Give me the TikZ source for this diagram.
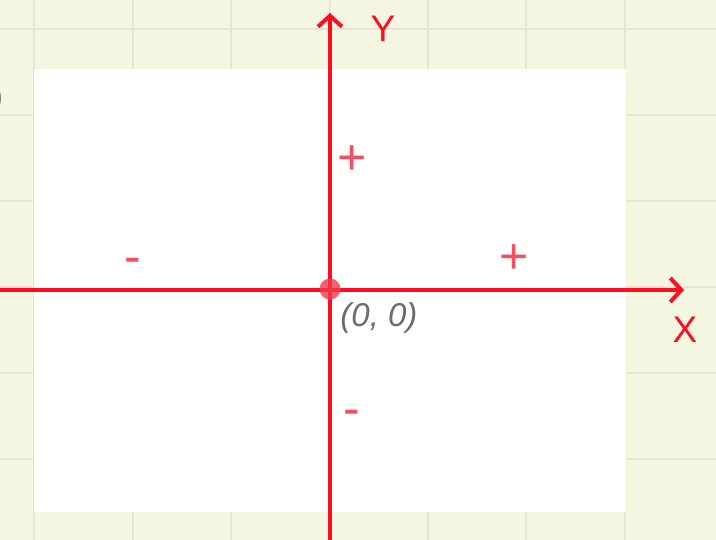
\documentclass[tikz,border=0pt]{standalone}
\usepackage{fontspec}
\setmainfont{Liberation Sans}
\usetikzlibrary{arrows.meta}
\definecolor{bgc}{RGB}{245,246,225}
\definecolor{gridc}{RGB}{228,230,209}
\definecolor{axisred}{RGB}{255,12,32}
\definecolor{signred}{RGB}{246,78,94}
\definecolor{dotred}{RGB}{240,58,74}
\definecolor{labgray}{RGB}{108,108,108}
\tikzset{
  gridline/.style={draw=gridc, line width=2pt},
  axisline/.style={draw=axisred, line width=4pt, -{Straight Barb[length=11pt,width=24pt,line width=4pt]}},
  axislabel/.style={text=axisred, font=\fontsize{37}{40}\selectfont, inner sep=0pt, anchor=base},
  signlabel/.style={text=signred, font=\fontsize{50}{54}\selectfont, inner sep=0pt, anchor=base},
  originlabel/.style={text=labgray, font=\fontsize{33}{36}\selectfont\itshape, inner sep=0pt, anchor=base}
}
\begin{document}
\begin{tikzpicture}[x=1pt,y=-1pt]
\useasboundingbox (0,0) rectangle (716,540);
\clip (0,0) rectangle (716,540);
% background
\fill[bgc] (0,0) rectangle (716,540);
% grid
\foreach \gx in {34,133,231,330,428,526,625} {\draw[gridline] (\gx,0) -- (\gx,540);}
\foreach \gy in {29,115,201,287,373,459} {\draw[gridline] (0,\gy) -- (716,\gy);}
% white panel
\fill[white] (34,69) rectangle (626,512);
% clipped glyph at left edge
\node[text=labgray, font=\fontsize{30}{34}\selectfont, inner sep=0pt, anchor=base east] (edge) at (3,107) {)};
% axes
\coordinate (xl) at (0,290);
\coordinate (xr) at (684,290);
\coordinate (yb) at (330,540);
\coordinate (yt) at (330,13);
\draw[axisline] (xl) -- (xr);
\draw[axisline] (yb) -- (yt);
% origin dot
\fill[dotred, opacity=0.8] (330,289) circle (10.5);
\node[inner sep=0pt] (origin) at (330,289) {};
% labels
\node[axislabel] (ylab) at (383,42) {Y};
\node[axislabel] (xlab) at (685,343) {X};
\node[originlabel] (olab) at (379,327) {(0, 0)};
\node[signlabel] (pty) at (352,175) {+};
\node[signlabel] (ptx) at (514,274) {+};
\node[signlabel] (mtx) at (133,274) {-};
\node[signlabel] (mty) at (352,426) {-};
\end{tikzpicture}
\end{document}
